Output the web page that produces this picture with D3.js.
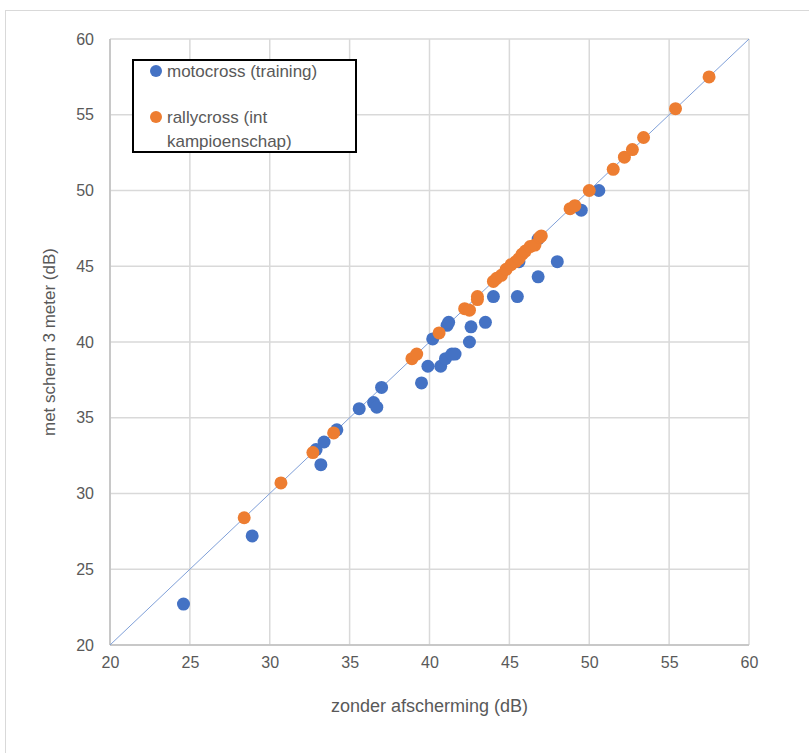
<!DOCTYPE html>
<html><head><meta charset="utf-8">
<script src="https://cdn.jsdelivr.net/npm/d3@7"></script>
<style>body{margin:0;background:#fff;} text{font-family:"Liberation Sans",Arial,sans-serif;}</style>
</head><body><svg id="c" width="809" height="753"></svg>
<script>
const motoX = [24.6,28.9,33.2,32.9,33.4,34.2,35.6,36.5,36.7,37.0,39.5,39.9,40.7,41.0,41.4,41.6,40.2,41.1,41.2,42.5,42.6,43.5,44.0,45.5,46.8,48.0,45.6,46.8,49.5,50.6];
const motoY = [22.7,27.2,31.9,32.9,33.4,34.2,35.6,36.0,35.7,37.0,37.3,38.4,38.4,38.9,39.2,39.2,40.2,41.1,41.3,40.0,41.0,41.3,43.0,43.0,44.3,45.3,45.3,46.8,48.7,50.0];
const rallyX = [28.4,30.7,32.7,34.0,38.9,39.2,40.6,42.2,42.5,43.0,43.0,44.0,44.2,44.5,44.8,45.1,45.4,45.6,45.8,46.0,46.3,46.6,46.9,47.0,48.8,49.1,50.0,51.5,52.2,52.7,53.4,55.4,57.5];
const rallyY = [28.4,30.7,32.7,34.0,38.9,39.2,40.6,42.2,42.1,42.8,43.0,44.0,44.2,44.4,44.8,45.1,45.3,45.5,45.8,46.0,46.3,46.4,46.9,47.0,48.8,49.0,50.0,51.4,52.2,52.7,53.5,55.4,57.5];
const lineX = [20,60];
const lineY = [20,60];
const xTicks = [20,25,30,35,40,45,50,55,60];
const yTicks = [20,25,30,35,40,45,50,55,60];
const seriesNames = ["motocross (training)","rallycross (int kampioenschap)"];
const colors = ["#4472C4","#ED7D31"];

const svg = d3.select("#c");
const L=110, R=749, T=39, B=645;
const x = d3.scaleLinear().domain([20,60]).range([L,R]);
const y = d3.scaleLinear().domain([20,60]).range([B,T]);

svg.append("rect").attr("x",5.5).attr("y",10.5).attr("width",900).attr("height",900)
  .attr("fill","none").attr("stroke","#d9d9d9").attr("stroke-width",1);

const g = svg.append("g");
g.selectAll(".gx").data(xTicks).join("line").attr("x1",d=>x(d)).attr("x2",d=>x(d)).attr("y1",T).attr("y2",B)
  .attr("stroke","#d9d9d9").attr("stroke-width",1.5);
g.selectAll(".gy").data(yTicks).join("line").attr("y1",d=>y(d)).attr("y2",d=>y(d)).attr("x1",L).attr("x2",R)
  .attr("stroke","#d9d9d9").attr("stroke-width",1.5);
g.append("line").attr("x1",L).attr("x2",L).attr("y1",T).attr("y2",B).attr("stroke","#bfbfbf").attr("stroke-width",1.5);
g.append("line").attr("x1",L).attr("x2",R).attr("y1",B).attr("y2",B).attr("stroke","#bfbfbf").attr("stroke-width",1.5);

const xa = svg.append("g").attr("transform",`translate(0,${B})`).call(d3.axisBottom(x).tickValues(xTicks).tickSize(0).tickPadding(12));
xa.select(".domain").remove();
xa.selectAll("text").attr("fill","#595959").attr("font-size","16px").attr("font-family","Liberation Sans, Arial, sans-serif");
const ya = svg.append("g").attr("transform",`translate(${L},0)`).call(d3.axisLeft(y).tickValues(yTicks).tickSize(0).tickPadding(16));
ya.select(".domain").remove();
ya.selectAll("text").attr("fill","#595959").attr("font-size","16px").attr("font-family","Liberation Sans, Arial, sans-serif");

svg.append("path").datum(lineX.map((v,i)=>[v,lineY[i]]))
  .attr("d",d3.line().x(d=>x(d[0])).y(d=>y(d[1])))
  .attr("stroke","#7f9fd8").attr("stroke-width",1).attr("fill","none");

const moto = motoX.map((v,i)=>[v,motoY[i]]);
const rally = rallyX.map((v,i)=>[v,rallyY[i]]);
svg.append("g").selectAll("circle").data(moto).join("circle")
  .attr("cx",d=>x(d[0])).attr("cy",d=>y(d[1])).attr("r",6.5).attr("fill",colors[0]);
svg.append("g").selectAll("circle").data(rally).join("circle")
  .attr("cx",d=>x(d[0])).attr("cy",d=>y(d[1])).attr("r",6.5).attr("fill",colors[1]);

svg.append("text").attr("x",(L+R)/2).attr("y",712).attr("text-anchor","middle")
  .attr("fill","#595959").attr("font-size","18px").text("zonder afscherming (dB)");
svg.append("text").attr("transform",`translate(55,${(T+B)/2}) rotate(-90)`).attr("text-anchor","middle")
  .attr("fill","#595959").attr("font-size","17px").text("met scherm 3 meter (dB)");

const lg = svg.append("g");
lg.append("rect").attr("x",133).attr("y",60).attr("width",223).attr("height",92)
  .attr("fill","#fff").attr("stroke","#000").attr("stroke-width",2);
lg.append("circle").attr("cx",156).attr("cy",71).attr("r",6).attr("fill",colors[0]);
lg.append("text").attr("x",167).attr("y",77).attr("fill","#595959").attr("font-size","17px").text(seriesNames[0]);
lg.append("circle").attr("cx",156).attr("cy",117).attr("r",6).attr("fill",colors[1]);
lg.append("text").attr("x",167).attr("y",123).attr("fill","#595959").attr("font-size","17px").text("rallycross (int");
lg.append("text").attr("x",167).attr("y",147).attr("fill","#595959").attr("font-size","17px").text("kampioenschap)");
</script></body></html>
